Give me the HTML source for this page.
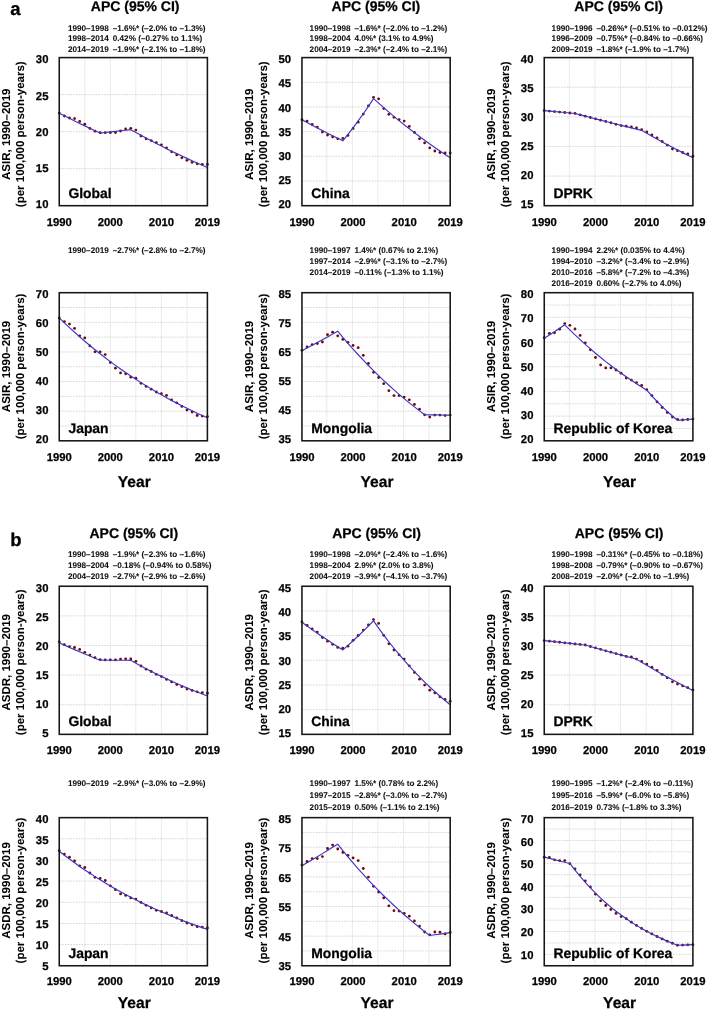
<!DOCTYPE html><html><head><meta charset="utf-8"><style>html,body{margin:0;padding:0;background:#fff;}svg{display:block;will-change:transform;}text{font-family:"Liberation Sans", sans-serif;text-rendering:geometricPrecision;stroke:#000;stroke-width:0.25px;}text.s{stroke-width:0.06px;}</style></head><body>
<svg width="708" height="1010" viewBox="0 0 708 1010">
<rect x="0" y="0" width="708" height="1010" fill="#fff"/>
<text x="10.3" y="14.6" font-size="18.5" font-weight="bold" fill="#000">a</text>
<text x="10.3" y="545.6" font-size="18.5" font-weight="bold" fill="#000">b</text>
<line x1="84.79" y1="57.6" x2="84.79" y2="205.7" stroke="#ebebeb" stroke-width="1.0"/>
<line x1="110.34" y1="57.6" x2="110.34" y2="205.7" stroke="#ebebeb" stroke-width="1.0"/>
<line x1="135.88" y1="57.6" x2="135.88" y2="205.7" stroke="#ebebeb" stroke-width="1.0"/>
<line x1="161.42" y1="57.6" x2="161.42" y2="205.7" stroke="#ebebeb" stroke-width="1.0"/>
<line x1="186.97" y1="57.6" x2="186.97" y2="205.7" stroke="#ebebeb" stroke-width="1.0"/>
<line x1="59.25" y1="168.67" x2="207.4" y2="168.67" stroke="#c8c8c8" stroke-width="0.75" stroke-dasharray="1.6 1.2"/>
<line x1="59.25" y1="131.65" x2="207.4" y2="131.65" stroke="#c8c8c8" stroke-width="0.75" stroke-dasharray="1.6 1.2"/>
<line x1="59.25" y1="94.62" x2="207.4" y2="94.62" stroke="#c8c8c8" stroke-width="0.75" stroke-dasharray="1.6 1.2"/>
<g fill="#760606"><circle cx="59.25" cy="113.1" r="1.4"/><circle cx="64.36" cy="116" r="1.4"/><circle cx="69.47" cy="118" r="1.4"/><circle cx="74.58" cy="118.6" r="1.4"/><circle cx="79.68" cy="121.4" r="1.4"/><circle cx="84.79" cy="124.2" r="1.4"/><circle cx="89.9" cy="128.4" r="1.4"/><circle cx="95.01" cy="131.2" r="1.4"/><circle cx="100.12" cy="132.7" r="1.4"/><circle cx="105.23" cy="132.7" r="1.4"/><circle cx="110.34" cy="132.7" r="1.4"/><circle cx="115.44" cy="132.5" r="1.4"/><circle cx="120.55" cy="131" r="1.4"/><circle cx="125.66" cy="129" r="1.4"/><circle cx="130.77" cy="128.3" r="1.4"/><circle cx="135.88" cy="130.1" r="1.4"/><circle cx="140.99" cy="136" r="1.4"/><circle cx="146.1" cy="138.8" r="1.4"/><circle cx="151.21" cy="140.6" r="1.4"/><circle cx="156.31" cy="142.7" r="1.4"/><circle cx="161.42" cy="144.8" r="1.4"/><circle cx="166.53" cy="147.9" r="1.4"/><circle cx="171.64" cy="151.8" r="1.4"/><circle cx="176.75" cy="154.9" r="1.4"/><circle cx="181.86" cy="157.8" r="1.4"/><circle cx="186.97" cy="160.3" r="1.4"/><circle cx="192.07" cy="162.3" r="1.4"/><circle cx="197.18" cy="163.8" r="1.4"/><circle cx="202.29" cy="164.3" r="1.4"/><circle cx="207.4" cy="164.5" r="1.4"/></g>
<polyline points="59.25,113.14 64.36,115.77 69.47,118.36 74.58,120.91 79.68,123.41 84.79,125.88 89.9,128.31 95.01,130.7 100.12,133.06 105.23,132.49 110.34,131.93 115.44,131.36 120.55,130.79 125.66,130.22 130.77,129.65 135.88,132.52 140.99,135.34 146.1,138.1 151.21,140.81 156.31,143.47 161.42,146.08 166.53,148.64 171.64,151.15 176.75,153.61 181.86,156.02 186.97,158.39 192.07,160.71 197.18,162.99 202.29,165.22 207.4,167.42" fill="none" stroke="#3a36c6" stroke-width="1.15" stroke-linejoin="round"/>
<rect x="59.25" y="57.6" width="148.15" height="148.1" fill="none" stroke="#161616" stroke-width="1.55"/>
<text x="48.45" y="208.32" font-size="11.3" font-weight="bold" text-anchor="end">10</text>
<text x="48.45" y="172.07" font-size="11.3" font-weight="bold" text-anchor="end">15</text>
<text x="48.45" y="135.82" font-size="11.3" font-weight="bold" text-anchor="end">20</text>
<text x="48.45" y="99.57" font-size="11.3" font-weight="bold" text-anchor="end">25</text>
<text x="48.45" y="63.32" font-size="11.3" font-weight="bold" text-anchor="end">30</text>
<text x="59.25" y="225.6" font-size="11.3" font-weight="bold" text-anchor="middle">1990</text>
<text x="110.34" y="225.6" font-size="11.3" font-weight="bold" text-anchor="middle">2000</text>
<text x="161.42" y="225.6" font-size="11.3" font-weight="bold" text-anchor="middle">2010</text>
<text x="207.4" y="225.6" font-size="11.3" font-weight="bold" text-anchor="middle">2019</text>
<text x="68.45" y="197.7" font-size="13.9" font-weight="bold">Global</text>
<text transform="translate(9.85,134.25) rotate(-90)" font-size="11.5" font-weight="bold" text-anchor="middle" class="s">ASIR, 1990–2019</text>
<text transform="translate(23.95,134.25) rotate(-90)" font-size="11.5" font-weight="bold" text-anchor="middle" class="s">(per 100,000 person-years)</text>
<text x="135.2" y="11" font-size="14.0" font-weight="bold" text-anchor="middle">APC (95% CI)</text>
<text transform="translate(67.9,30.6) scale(1.0,1)" font-size="8.2" font-weight="bold" fill="#111" class="s">1990–1998</text>
<text transform="translate(112.7,30.6) scale(1.0,1)" font-size="8.2" font-weight="bold" fill="#111" class="s">–1.6%* (–2.0% to –1.3%)</text>
<text transform="translate(67.9,41.1) scale(1.0,1)" font-size="8.2" font-weight="bold" fill="#111" class="s">1998–2014</text>
<text transform="translate(112.7,41.1) scale(1.0,1)" font-size="8.2" font-weight="bold" fill="#111" class="s">0.42% (–0.27% to 1.1%)</text>
<text transform="translate(67.9,51.6) scale(1.0,1)" font-size="8.2" font-weight="bold" fill="#111" class="s">2014–2019</text>
<text transform="translate(112.7,51.6) scale(1.0,1)" font-size="8.2" font-weight="bold" fill="#111" class="s">–1.9%* (–2.1% to –1.8%)</text>
<line x1="326.81" y1="57.6" x2="326.81" y2="205.7" stroke="#ebebeb" stroke-width="1.0"/>
<line x1="352.37" y1="57.6" x2="352.37" y2="205.7" stroke="#ebebeb" stroke-width="1.0"/>
<line x1="377.93" y1="57.6" x2="377.93" y2="205.7" stroke="#ebebeb" stroke-width="1.0"/>
<line x1="403.49" y1="57.6" x2="403.49" y2="205.7" stroke="#ebebeb" stroke-width="1.0"/>
<line x1="429.05" y1="57.6" x2="429.05" y2="205.7" stroke="#ebebeb" stroke-width="1.0"/>
<line x1="301.95" y1="181.02" x2="450.2" y2="181.02" stroke="#c8c8c8" stroke-width="0.75" stroke-dasharray="1.6 1.2"/>
<line x1="301.95" y1="156.33" x2="450.2" y2="156.33" stroke="#c8c8c8" stroke-width="0.75" stroke-dasharray="1.6 1.2"/>
<line x1="301.95" y1="131.65" x2="450.2" y2="131.65" stroke="#c8c8c8" stroke-width="0.75" stroke-dasharray="1.6 1.2"/>
<line x1="301.95" y1="106.97" x2="450.2" y2="106.97" stroke="#c8c8c8" stroke-width="0.75" stroke-dasharray="1.6 1.2"/>
<line x1="301.95" y1="82.28" x2="450.2" y2="82.28" stroke="#c8c8c8" stroke-width="0.75" stroke-dasharray="1.6 1.2"/>
<g fill="#760606"><circle cx="301.95" cy="119.65" r="1.4"/><circle cx="307.06" cy="121.1" r="1.4"/><circle cx="312.17" cy="124.5" r="1.4"/><circle cx="317.29" cy="127.1" r="1.4"/><circle cx="322.4" cy="132" r="1.4"/><circle cx="327.51" cy="135" r="1.4"/><circle cx="332.62" cy="136.9" r="1.4"/><circle cx="337.73" cy="138.8" r="1.4"/><circle cx="342.85" cy="138.4" r="1.4"/><circle cx="347.96" cy="135.4" r="1.4"/><circle cx="353.07" cy="128.4" r="1.4"/><circle cx="358.18" cy="122.2" r="1.4"/><circle cx="363.29" cy="114.1" r="1.4"/><circle cx="368.41" cy="105.8" r="1.4"/><circle cx="373.52" cy="97.3" r="1.4"/><circle cx="378.63" cy="98.8" r="1.4"/><circle cx="383.74" cy="108.6" r="1.4"/><circle cx="388.86" cy="114.3" r="1.4"/><circle cx="393.97" cy="117.3" r="1.4"/><circle cx="399.08" cy="119.6" r="1.4"/><circle cx="404.19" cy="121.1" r="1.4"/><circle cx="409.3" cy="126.4" r="1.4"/><circle cx="414.42" cy="132.4" r="1.4"/><circle cx="419.53" cy="138.8" r="1.4"/><circle cx="424.64" cy="142.9" r="1.4"/><circle cx="429.75" cy="147.9" r="1.4"/><circle cx="434.86" cy="151" r="1.4"/><circle cx="439.98" cy="152.5" r="1.4"/><circle cx="445.09" cy="153" r="1.4"/><circle cx="450.2" cy="153" r="1.4"/></g>
<polyline points="301.95,119.65 307.06,122.44 312.17,125.19 317.29,127.9 322.4,130.57 327.51,133.19 332.62,135.78 337.73,138.32 342.85,140.83 347.96,134.45 353.07,127.81 358.18,120.92 363.29,113.75 368.41,106.31 373.52,98.57 378.63,103.18 383.74,107.68 388.86,112.08 393.97,116.39 399.08,120.59 404.19,124.7 409.3,128.72 414.42,132.66 419.53,136.5 424.64,140.25 429.75,143.93 434.86,147.52 439.98,151.03 445.09,154.46 450.2,157.81" fill="none" stroke="#3a36c6" stroke-width="1.15" stroke-linejoin="round"/>
<rect x="301.95" y="57.6" width="148.25" height="148.1" fill="none" stroke="#161616" stroke-width="1.55"/>
<text x="291.15" y="208.32" font-size="11.3" font-weight="bold" text-anchor="end">20</text>
<text x="291.15" y="184.15" font-size="11.3" font-weight="bold" text-anchor="end">25</text>
<text x="291.15" y="159.98" font-size="11.3" font-weight="bold" text-anchor="end">30</text>
<text x="291.15" y="135.82" font-size="11.3" font-weight="bold" text-anchor="end">35</text>
<text x="291.15" y="111.65" font-size="11.3" font-weight="bold" text-anchor="end">40</text>
<text x="291.15" y="87.48" font-size="11.3" font-weight="bold" text-anchor="end">45</text>
<text x="291.15" y="63.32" font-size="11.3" font-weight="bold" text-anchor="end">50</text>
<text x="301.95" y="225.6" font-size="11.3" font-weight="bold" text-anchor="middle">1990</text>
<text x="353.07" y="225.6" font-size="11.3" font-weight="bold" text-anchor="middle">2000</text>
<text x="404.19" y="225.6" font-size="11.3" font-weight="bold" text-anchor="middle">2010</text>
<text x="450.2" y="225.6" font-size="11.3" font-weight="bold" text-anchor="middle">2019</text>
<text x="311.15" y="197.7" font-size="13.9" font-weight="bold">China</text>
<text transform="translate(252.55,134.25) rotate(-90)" font-size="11.5" font-weight="bold" text-anchor="middle" class="s">ASIR, 1990–2019</text>
<text transform="translate(266.65,134.25) rotate(-90)" font-size="11.5" font-weight="bold" text-anchor="middle" class="s">(per 100,000 person-years)</text>
<text x="375.9" y="11" font-size="14.0" font-weight="bold" text-anchor="middle">APC (95% CI)</text>
<text transform="translate(309.6,30.6) scale(1.0,1)" font-size="8.2" font-weight="bold" fill="#111" class="s">1990–1998</text>
<text transform="translate(354.4,30.6) scale(1.0,1)" font-size="8.2" font-weight="bold" fill="#111" class="s">–1.6%* (–2.0% to –1.2%)</text>
<text transform="translate(309.6,41.1) scale(1.0,1)" font-size="8.2" font-weight="bold" fill="#111" class="s">1998–2004</text>
<text transform="translate(354.4,41.1) scale(1.0,1)" font-size="8.2" font-weight="bold" fill="#111" class="s">4.0%* (3.1% to 4.9%)</text>
<text transform="translate(309.6,51.6) scale(1.0,1)" font-size="8.2" font-weight="bold" fill="#111" class="s">2004–2019</text>
<text transform="translate(354.4,51.6) scale(1.0,1)" font-size="8.2" font-weight="bold" fill="#111" class="s">–2.3%* (–2.4% to –2.1%)</text>
<line x1="569.28" y1="57.6" x2="569.28" y2="205.7" stroke="#ebebeb" stroke-width="1.0"/>
<line x1="594.91" y1="57.6" x2="594.91" y2="205.7" stroke="#ebebeb" stroke-width="1.0"/>
<line x1="620.54" y1="57.6" x2="620.54" y2="205.7" stroke="#ebebeb" stroke-width="1.0"/>
<line x1="646.17" y1="57.6" x2="646.17" y2="205.7" stroke="#ebebeb" stroke-width="1.0"/>
<line x1="671.8" y1="57.6" x2="671.8" y2="205.7" stroke="#ebebeb" stroke-width="1.0"/>
<line x1="544.25" y1="176.08" x2="692.9" y2="176.08" stroke="#c8c8c8" stroke-width="0.75" stroke-dasharray="1.6 1.2"/>
<line x1="544.25" y1="146.46" x2="692.9" y2="146.46" stroke="#c8c8c8" stroke-width="0.75" stroke-dasharray="1.6 1.2"/>
<line x1="544.25" y1="116.84" x2="692.9" y2="116.84" stroke="#c8c8c8" stroke-width="0.75" stroke-dasharray="1.6 1.2"/>
<line x1="544.25" y1="87.22" x2="692.9" y2="87.22" stroke="#c8c8c8" stroke-width="0.75" stroke-dasharray="1.6 1.2"/>
<g fill="#760606"><circle cx="544.25" cy="110.62" r="1.4"/><circle cx="549.38" cy="111.1" r="1.4"/><circle cx="554.5" cy="111.57" r="1.4"/><circle cx="559.63" cy="112.05" r="1.4"/><circle cx="564.75" cy="112.52" r="1.4"/><circle cx="569.88" cy="112.99" r="1.4"/><circle cx="575.01" cy="113.46" r="1.4"/><circle cx="580.13" cy="114.82" r="1.4"/><circle cx="585.26" cy="116.17" r="1.4"/><circle cx="590.38" cy="117.51" r="1.4"/><circle cx="595.51" cy="118.84" r="1.4"/><circle cx="600.63" cy="120.15" r="1.4"/><circle cx="605.76" cy="121.46" r="1.4"/><circle cx="610.89" cy="122.76" r="1.4"/><circle cx="616.01" cy="124.3" r="1.4"/><circle cx="621.14" cy="125.6" r="1.4"/><circle cx="626.26" cy="126.2" r="1.4"/><circle cx="631.39" cy="127" r="1.4"/><circle cx="636.52" cy="127.9" r="1.4"/><circle cx="641.64" cy="129.7" r="1.4"/><circle cx="646.77" cy="131.9" r="1.4"/><circle cx="651.89" cy="134.9" r="1.4"/><circle cx="657.02" cy="137.9" r="1.4"/><circle cx="662.14" cy="141.5" r="1.4"/><circle cx="667.27" cy="145.1" r="1.4"/><circle cx="672.4" cy="149" r="1.4"/><circle cx="677.52" cy="150.7" r="1.4"/><circle cx="682.65" cy="152.5" r="1.4"/><circle cx="687.77" cy="153.9" r="1.4"/><circle cx="692.9" cy="156.2" r="1.4"/></g>
<polyline points="544.25,110.62 549.38,111.1 554.5,111.57 559.63,112.05 564.75,112.52 569.88,112.99 575.01,113.46 580.13,114.82 585.26,116.17 590.38,117.51 595.51,118.84 600.63,120.15 605.76,121.46 610.89,122.76 616.01,124.05 621.14,125.33 626.26,126.6 631.39,127.86 636.52,129.11 641.64,130.35 646.77,133.31 651.89,136.23 657.02,139.09 662.14,141.9 667.27,144.65 672.4,147.36 677.52,150.02 682.65,152.63 687.77,155.2 692.9,157.72" fill="none" stroke="#3a36c6" stroke-width="1.15" stroke-linejoin="round"/>
<rect x="544.25" y="57.6" width="148.65" height="148.1" fill="none" stroke="#161616" stroke-width="1.55"/>
<text x="533.45" y="208.32" font-size="11.3" font-weight="bold" text-anchor="end">15</text>
<text x="533.45" y="179.32" font-size="11.3" font-weight="bold" text-anchor="end">20</text>
<text x="533.45" y="150.32" font-size="11.3" font-weight="bold" text-anchor="end">25</text>
<text x="533.45" y="121.32" font-size="11.3" font-weight="bold" text-anchor="end">30</text>
<text x="533.45" y="92.32" font-size="11.3" font-weight="bold" text-anchor="end">35</text>
<text x="533.45" y="63.32" font-size="11.3" font-weight="bold" text-anchor="end">40</text>
<text x="544.25" y="225.6" font-size="11.3" font-weight="bold" text-anchor="middle">1990</text>
<text x="595.51" y="225.6" font-size="11.3" font-weight="bold" text-anchor="middle">2000</text>
<text x="646.77" y="225.6" font-size="11.3" font-weight="bold" text-anchor="middle">2010</text>
<text x="692.9" y="225.6" font-size="11.3" font-weight="bold" text-anchor="middle">2019</text>
<text x="553.45" y="197.7" font-size="13.9" font-weight="bold">DPRK</text>
<text transform="translate(494.85,134.25) rotate(-90)" font-size="11.5" font-weight="bold" text-anchor="middle" class="s">ASIR, 1990–2019</text>
<text transform="translate(508.95,134.25) rotate(-90)" font-size="11.5" font-weight="bold" text-anchor="middle" class="s">(per 100,000 person-years)</text>
<text x="618.7" y="11" font-size="14.0" font-weight="bold" text-anchor="middle">APC (95% CI)</text>
<text transform="translate(551.6,30.6) scale(1.0,1)" font-size="8.2" font-weight="bold" fill="#111" class="s">1990–1996</text>
<text transform="translate(596.4,30.6) scale(1.0,1)" font-size="8.2" font-weight="bold" fill="#111" class="s">–0.26%* (–0.51% to –0.012%)</text>
<text transform="translate(551.6,41.1) scale(1.0,1)" font-size="8.2" font-weight="bold" fill="#111" class="s">1996–2009</text>
<text transform="translate(596.4,41.1) scale(1.0,1)" font-size="8.2" font-weight="bold" fill="#111" class="s">–0.75%* (–0.84% to –0.66%)</text>
<text transform="translate(551.6,51.6) scale(1.0,1)" font-size="8.2" font-weight="bold" fill="#111" class="s">2009–2019</text>
<text transform="translate(596.4,51.6) scale(1.0,1)" font-size="8.2" font-weight="bold" fill="#111" class="s">–1.8%* (–1.9% to –1.7%)</text>
<line x1="84.79" y1="292.7" x2="84.79" y2="440.8" stroke="#ebebeb" stroke-width="1.0"/>
<line x1="110.34" y1="292.7" x2="110.34" y2="440.8" stroke="#ebebeb" stroke-width="1.0"/>
<line x1="135.88" y1="292.7" x2="135.88" y2="440.8" stroke="#ebebeb" stroke-width="1.0"/>
<line x1="161.42" y1="292.7" x2="161.42" y2="440.8" stroke="#ebebeb" stroke-width="1.0"/>
<line x1="186.97" y1="292.7" x2="186.97" y2="440.8" stroke="#ebebeb" stroke-width="1.0"/>
<line x1="59.25" y1="425.99" x2="207.4" y2="425.99" stroke="#c8c8c8" stroke-width="0.75" stroke-dasharray="1.6 1.2"/>
<line x1="59.25" y1="411.18" x2="207.4" y2="411.18" stroke="#c8c8c8" stroke-width="0.75" stroke-dasharray="1.6 1.2"/>
<line x1="59.25" y1="396.37" x2="207.4" y2="396.37" stroke="#c8c8c8" stroke-width="0.75" stroke-dasharray="1.6 1.2"/>
<line x1="59.25" y1="381.56" x2="207.4" y2="381.56" stroke="#c8c8c8" stroke-width="0.75" stroke-dasharray="1.6 1.2"/>
<line x1="59.25" y1="366.75" x2="207.4" y2="366.75" stroke="#c8c8c8" stroke-width="0.75" stroke-dasharray="1.6 1.2"/>
<line x1="59.25" y1="351.94" x2="207.4" y2="351.94" stroke="#c8c8c8" stroke-width="0.75" stroke-dasharray="1.6 1.2"/>
<line x1="59.25" y1="337.13" x2="207.4" y2="337.13" stroke="#c8c8c8" stroke-width="0.75" stroke-dasharray="1.6 1.2"/>
<line x1="59.25" y1="322.32" x2="207.4" y2="322.32" stroke="#c8c8c8" stroke-width="0.75" stroke-dasharray="1.6 1.2"/>
<line x1="59.25" y1="307.51" x2="207.4" y2="307.51" stroke="#c8c8c8" stroke-width="0.75" stroke-dasharray="1.6 1.2"/>
<g fill="#760606"><circle cx="59.25" cy="317.9" r="1.4"/><circle cx="64.36" cy="321.6" r="1.4"/><circle cx="69.47" cy="324.1" r="1.4"/><circle cx="74.58" cy="328.4" r="1.4"/><circle cx="79.68" cy="335.8" r="1.4"/><circle cx="84.79" cy="337.9" r="1.4"/><circle cx="89.9" cy="345.9" r="1.4"/><circle cx="95.01" cy="351.8" r="1.4"/><circle cx="100.12" cy="351.8" r="1.4"/><circle cx="105.23" cy="354.6" r="1.4"/><circle cx="110.34" cy="362.5" r="1.4"/><circle cx="115.44" cy="368.2" r="1.4"/><circle cx="120.55" cy="372.9" r="1.4"/><circle cx="125.66" cy="373.8" r="1.4"/><circle cx="130.77" cy="377.2" r="1.4"/><circle cx="135.88" cy="378.2" r="1.4"/><circle cx="140.99" cy="383.3" r="1.4"/><circle cx="146.1" cy="386.4" r="1.4"/><circle cx="151.21" cy="389.2" r="1.4"/><circle cx="156.31" cy="392" r="1.4"/><circle cx="161.42" cy="393.7" r="1.4"/><circle cx="166.53" cy="395.4" r="1.4"/><circle cx="171.64" cy="399.9" r="1.4"/><circle cx="176.75" cy="402.8" r="1.4"/><circle cx="181.86" cy="406.4" r="1.4"/><circle cx="186.97" cy="410.1" r="1.4"/><circle cx="192.07" cy="412" r="1.4"/><circle cx="197.18" cy="415.5" r="1.4"/><circle cx="202.29" cy="416.1" r="1.4"/><circle cx="207.4" cy="416.6" r="1.4"/></g>
<polyline points="59.25,317.88 64.36,322.81 69.47,327.61 74.58,332.27 79.68,336.81 84.79,341.23 89.9,345.53 95.01,349.71 100.12,353.78 105.23,357.74 110.34,361.59 115.44,365.34 120.55,368.99 125.66,372.53 130.77,375.99 135.88,379.34 140.99,382.61 146.1,385.79 151.21,388.88 156.31,391.89 161.42,394.82 166.53,397.67 171.64,400.44 176.75,403.13 181.86,405.76 186.97,408.31 192.07,410.79 197.18,413.21 202.29,415.56 207.4,417.84" fill="none" stroke="#3a36c6" stroke-width="1.15" stroke-linejoin="round"/>
<rect x="59.25" y="292.7" width="148.15" height="148.1" fill="none" stroke="#161616" stroke-width="1.55"/>
<text x="48.45" y="443.47" font-size="11.3" font-weight="bold" text-anchor="end">20</text>
<text x="48.45" y="414.39" font-size="11.3" font-weight="bold" text-anchor="end">30</text>
<text x="48.45" y="385.31" font-size="11.3" font-weight="bold" text-anchor="end">40</text>
<text x="48.45" y="356.23" font-size="11.3" font-weight="bold" text-anchor="end">50</text>
<text x="48.45" y="327.15" font-size="11.3" font-weight="bold" text-anchor="end">60</text>
<text x="48.45" y="298.07" font-size="11.3" font-weight="bold" text-anchor="end">70</text>
<text x="59.25" y="461.3" font-size="11.3" font-weight="bold" text-anchor="middle">1990</text>
<text x="110.34" y="461.3" font-size="11.3" font-weight="bold" text-anchor="middle">2000</text>
<text x="161.42" y="461.3" font-size="11.3" font-weight="bold" text-anchor="middle">2010</text>
<text x="207.4" y="461.3" font-size="11.3" font-weight="bold" text-anchor="middle">2019</text>
<text x="68.45" y="432.8" font-size="13.9" font-weight="bold">Japan</text>
<text transform="translate(9.85,366.45) rotate(-90)" font-size="11.5" font-weight="bold" text-anchor="middle" class="s">ASIR, 1990–2019</text>
<text transform="translate(23.95,366.45) rotate(-90)" font-size="11.5" font-weight="bold" text-anchor="middle" class="s">(per 100,000 person-years)</text>
<text transform="translate(67.9,253) scale(1.0,1)" font-size="8.2" font-weight="bold" fill="#111" class="s">1990–2019</text>
<text transform="translate(112.7,253) scale(1.0,1)" font-size="8.2" font-weight="bold" fill="#111" class="s">–2.7%* (–2.8% to –2.7%)</text>
<text x="134.32" y="486.5" font-size="15.6" font-weight="bold" text-anchor="middle">Year</text>
<line x1="326.81" y1="292.7" x2="326.81" y2="440.8" stroke="#ebebeb" stroke-width="1.0"/>
<line x1="352.37" y1="292.7" x2="352.37" y2="440.8" stroke="#ebebeb" stroke-width="1.0"/>
<line x1="377.93" y1="292.7" x2="377.93" y2="440.8" stroke="#ebebeb" stroke-width="1.0"/>
<line x1="403.49" y1="292.7" x2="403.49" y2="440.8" stroke="#ebebeb" stroke-width="1.0"/>
<line x1="429.05" y1="292.7" x2="429.05" y2="440.8" stroke="#ebebeb" stroke-width="1.0"/>
<line x1="301.95" y1="425.99" x2="450.2" y2="425.99" stroke="#c8c8c8" stroke-width="0.75" stroke-dasharray="1.6 1.2"/>
<line x1="301.95" y1="411.18" x2="450.2" y2="411.18" stroke="#c8c8c8" stroke-width="0.75" stroke-dasharray="1.6 1.2"/>
<line x1="301.95" y1="396.37" x2="450.2" y2="396.37" stroke="#c8c8c8" stroke-width="0.75" stroke-dasharray="1.6 1.2"/>
<line x1="301.95" y1="381.56" x2="450.2" y2="381.56" stroke="#c8c8c8" stroke-width="0.75" stroke-dasharray="1.6 1.2"/>
<line x1="301.95" y1="366.75" x2="450.2" y2="366.75" stroke="#c8c8c8" stroke-width="0.75" stroke-dasharray="1.6 1.2"/>
<line x1="301.95" y1="351.94" x2="450.2" y2="351.94" stroke="#c8c8c8" stroke-width="0.75" stroke-dasharray="1.6 1.2"/>
<line x1="301.95" y1="337.13" x2="450.2" y2="337.13" stroke="#c8c8c8" stroke-width="0.75" stroke-dasharray="1.6 1.2"/>
<line x1="301.95" y1="322.32" x2="450.2" y2="322.32" stroke="#c8c8c8" stroke-width="0.75" stroke-dasharray="1.6 1.2"/>
<line x1="301.95" y1="307.51" x2="450.2" y2="307.51" stroke="#c8c8c8" stroke-width="0.75" stroke-dasharray="1.6 1.2"/>
<g fill="#760606"><circle cx="301.95" cy="350.3" r="1.4"/><circle cx="307.06" cy="346.9" r="1.4"/><circle cx="312.17" cy="344.6" r="1.4"/><circle cx="317.29" cy="343.5" r="1.4"/><circle cx="322.4" cy="342" r="1.4"/><circle cx="327.51" cy="334.7" r="1.4"/><circle cx="332.62" cy="332.2" r="1.4"/><circle cx="337.73" cy="335.8" r="1.4"/><circle cx="342.85" cy="339.4" r="1.4"/><circle cx="347.96" cy="342.3" r="1.4"/><circle cx="353.07" cy="345.4" r="1.4"/><circle cx="358.18" cy="347.7" r="1.4"/><circle cx="363.29" cy="355.3" r="1.4"/><circle cx="368.41" cy="363.5" r="1.4"/><circle cx="373.52" cy="372.3" r="1.4"/><circle cx="378.63" cy="377.5" r="1.4"/><circle cx="383.74" cy="383.7" r="1.4"/><circle cx="388.86" cy="390.7" r="1.4"/><circle cx="393.97" cy="395.6" r="1.4"/><circle cx="399.08" cy="395.6" r="1.4"/><circle cx="404.19" cy="397.1" r="1.4"/><circle cx="409.3" cy="399.8" r="1.4"/><circle cx="414.42" cy="404.4" r="1.4"/><circle cx="419.53" cy="409.2" r="1.4"/><circle cx="424.64" cy="414.8" r="1.4"/><circle cx="429.75" cy="417.1" r="1.4"/><circle cx="434.86" cy="415.1" r="1.4"/><circle cx="439.98" cy="415.1" r="1.4"/><circle cx="445.09" cy="415.6" r="1.4"/><circle cx="450.2" cy="415.1" r="1.4"/></g>
<polyline points="301.95,350.76 307.06,348.08 312.17,345.36 317.29,342.61 322.4,339.81 327.51,336.98 332.62,334.12 337.73,331.21 342.85,337.35 347.96,343.32 353.07,349.11 358.18,354.74 363.29,360.21 368.41,365.52 373.52,370.68 378.63,375.68 383.74,380.55 388.86,385.27 393.97,389.86 399.08,394.31 404.19,398.64 409.3,402.84 414.42,406.92 419.53,410.89 424.64,414.73 429.75,414.82 434.86,414.91 439.98,415 445.09,415.09 450.2,415.18" fill="none" stroke="#3a36c6" stroke-width="1.15" stroke-linejoin="round"/>
<rect x="301.95" y="292.7" width="148.25" height="148.1" fill="none" stroke="#161616" stroke-width="1.55"/>
<text x="291.15" y="443.47" font-size="11.3" font-weight="bold" text-anchor="end">35</text>
<text x="291.15" y="414.39" font-size="11.3" font-weight="bold" text-anchor="end">45</text>
<text x="291.15" y="385.31" font-size="11.3" font-weight="bold" text-anchor="end">55</text>
<text x="291.15" y="356.23" font-size="11.3" font-weight="bold" text-anchor="end">65</text>
<text x="291.15" y="327.15" font-size="11.3" font-weight="bold" text-anchor="end">75</text>
<text x="291.15" y="298.07" font-size="11.3" font-weight="bold" text-anchor="end">85</text>
<text x="301.95" y="461.3" font-size="11.3" font-weight="bold" text-anchor="middle">1990</text>
<text x="353.07" y="461.3" font-size="11.3" font-weight="bold" text-anchor="middle">2000</text>
<text x="404.19" y="461.3" font-size="11.3" font-weight="bold" text-anchor="middle">2010</text>
<text x="450.2" y="461.3" font-size="11.3" font-weight="bold" text-anchor="middle">2019</text>
<text x="311.15" y="432.8" font-size="13.9" font-weight="bold">Mongolia</text>
<text transform="translate(252.55,366.45) rotate(-90)" font-size="11.5" font-weight="bold" text-anchor="middle" class="s">ASIR, 1990–2019</text>
<text transform="translate(266.65,366.45) rotate(-90)" font-size="11.5" font-weight="bold" text-anchor="middle" class="s">(per 100,000 person-years)</text>
<text transform="translate(309.6,253) scale(1.0,1)" font-size="8.2" font-weight="bold" fill="#111" class="s">1990–1997</text>
<text transform="translate(354.4,253) scale(1.0,1)" font-size="8.2" font-weight="bold" fill="#111" class="s">1.4%* (0.67% to 2.1%)</text>
<text transform="translate(309.6,263.8) scale(1.0,1)" font-size="8.2" font-weight="bold" fill="#111" class="s">1997–2014</text>
<text transform="translate(354.4,263.8) scale(1.0,1)" font-size="8.2" font-weight="bold" fill="#111" class="s">–2.9%* (–3.1% to –2.7%)</text>
<text transform="translate(309.6,274.9) scale(1.0,1)" font-size="8.2" font-weight="bold" fill="#111" class="s">2014–2019</text>
<text transform="translate(354.4,274.9) scale(1.0,1)" font-size="8.2" font-weight="bold" fill="#111" class="s">–0.11% (–1.3% to 1.1%)</text>
<text x="377.07" y="486.5" font-size="15.6" font-weight="bold" text-anchor="middle">Year</text>
<line x1="569.28" y1="292.7" x2="569.28" y2="440.8" stroke="#ebebeb" stroke-width="1.0"/>
<line x1="594.91" y1="292.7" x2="594.91" y2="440.8" stroke="#ebebeb" stroke-width="1.0"/>
<line x1="620.54" y1="292.7" x2="620.54" y2="440.8" stroke="#ebebeb" stroke-width="1.0"/>
<line x1="646.17" y1="292.7" x2="646.17" y2="440.8" stroke="#ebebeb" stroke-width="1.0"/>
<line x1="671.8" y1="292.7" x2="671.8" y2="440.8" stroke="#ebebeb" stroke-width="1.0"/>
<line x1="544.25" y1="428.46" x2="692.9" y2="428.46" stroke="#c8c8c8" stroke-width="0.75" stroke-dasharray="1.6 1.2"/>
<line x1="544.25" y1="416.12" x2="692.9" y2="416.12" stroke="#c8c8c8" stroke-width="0.75" stroke-dasharray="1.6 1.2"/>
<line x1="544.25" y1="403.77" x2="692.9" y2="403.77" stroke="#c8c8c8" stroke-width="0.75" stroke-dasharray="1.6 1.2"/>
<line x1="544.25" y1="391.43" x2="692.9" y2="391.43" stroke="#c8c8c8" stroke-width="0.75" stroke-dasharray="1.6 1.2"/>
<line x1="544.25" y1="379.09" x2="692.9" y2="379.09" stroke="#c8c8c8" stroke-width="0.75" stroke-dasharray="1.6 1.2"/>
<line x1="544.25" y1="366.75" x2="692.9" y2="366.75" stroke="#c8c8c8" stroke-width="0.75" stroke-dasharray="1.6 1.2"/>
<line x1="544.25" y1="354.41" x2="692.9" y2="354.41" stroke="#c8c8c8" stroke-width="0.75" stroke-dasharray="1.6 1.2"/>
<line x1="544.25" y1="342.07" x2="692.9" y2="342.07" stroke="#c8c8c8" stroke-width="0.75" stroke-dasharray="1.6 1.2"/>
<line x1="544.25" y1="329.72" x2="692.9" y2="329.72" stroke="#c8c8c8" stroke-width="0.75" stroke-dasharray="1.6 1.2"/>
<line x1="544.25" y1="317.38" x2="692.9" y2="317.38" stroke="#c8c8c8" stroke-width="0.75" stroke-dasharray="1.6 1.2"/>
<line x1="544.25" y1="305.04" x2="692.9" y2="305.04" stroke="#c8c8c8" stroke-width="0.75" stroke-dasharray="1.6 1.2"/>
<g fill="#760606"><circle cx="544.25" cy="337.7" r="1.4"/><circle cx="549.38" cy="333.5" r="1.4"/><circle cx="554.5" cy="332.8" r="1.4"/><circle cx="559.63" cy="329.2" r="1.4"/><circle cx="564.75" cy="323.6" r="1.4"/><circle cx="569.88" cy="325.3" r="1.4"/><circle cx="575.01" cy="329" r="1.4"/><circle cx="580.13" cy="335.4" r="1.4"/><circle cx="585.26" cy="342.8" r="1.4"/><circle cx="590.38" cy="349.8" r="1.4"/><circle cx="595.51" cy="357.5" r="1.4"/><circle cx="600.63" cy="364.9" r="1.4"/><circle cx="605.76" cy="367.9" r="1.4"/><circle cx="610.89" cy="367.9" r="1.4"/><circle cx="616.01" cy="370" r="1.4"/><circle cx="621.14" cy="373.2" r="1.4"/><circle cx="626.26" cy="378.1" r="1.4"/><circle cx="631.39" cy="380.1" r="1.4"/><circle cx="636.52" cy="382.6" r="1.4"/><circle cx="641.64" cy="385.4" r="1.4"/><circle cx="646.77" cy="389.6" r="1.4"/><circle cx="651.89" cy="395.6" r="1.4"/><circle cx="657.02" cy="401.8" r="1.4"/><circle cx="662.14" cy="407.5" r="1.4"/><circle cx="667.27" cy="412.5" r="1.4"/><circle cx="672.4" cy="417.1" r="1.4"/><circle cx="677.52" cy="419.3" r="1.4"/><circle cx="682.65" cy="419.9" r="1.4"/><circle cx="687.77" cy="419.49" r="1.4"/><circle cx="692.9" cy="419.08" r="1.4"/></g>
<polyline points="544.25,338.36 549.38,335.08 554.5,331.72 559.63,328.29 564.75,324.79 569.88,329.91 575.01,334.87 580.13,339.68 585.26,344.34 590.38,348.86 595.51,353.24 600.63,357.48 605.76,361.59 610.89,365.57 616.01,369.43 621.14,373.17 626.26,376.79 631.39,380.3 636.52,383.71 641.64,387 646.77,390.2 651.89,396 657.02,401.46 662.14,406.6 667.27,411.45 672.4,416.01 677.52,420.31 682.65,419.9 687.77,419.49 692.9,419.08" fill="none" stroke="#3a36c6" stroke-width="1.15" stroke-linejoin="round"/>
<rect x="544.25" y="292.7" width="148.65" height="148.1" fill="none" stroke="#161616" stroke-width="1.55"/>
<text x="533.45" y="443.47" font-size="11.3" font-weight="bold" text-anchor="end">20</text>
<text x="533.45" y="419.23" font-size="11.3" font-weight="bold" text-anchor="end">30</text>
<text x="533.45" y="395" font-size="11.3" font-weight="bold" text-anchor="end">40</text>
<text x="533.45" y="370.77" font-size="11.3" font-weight="bold" text-anchor="end">50</text>
<text x="533.45" y="346.53" font-size="11.3" font-weight="bold" text-anchor="end">60</text>
<text x="533.45" y="322.3" font-size="11.3" font-weight="bold" text-anchor="end">70</text>
<text x="533.45" y="298.07" font-size="11.3" font-weight="bold" text-anchor="end">80</text>
<text x="544.25" y="461.3" font-size="11.3" font-weight="bold" text-anchor="middle">1990</text>
<text x="595.51" y="461.3" font-size="11.3" font-weight="bold" text-anchor="middle">2000</text>
<text x="646.77" y="461.3" font-size="11.3" font-weight="bold" text-anchor="middle">2010</text>
<text x="692.9" y="461.3" font-size="11.3" font-weight="bold" text-anchor="middle">2019</text>
<text x="553.45" y="432.8" font-size="13.9" font-weight="bold">Republic of Korea</text>
<text transform="translate(494.85,366.45) rotate(-90)" font-size="11.5" font-weight="bold" text-anchor="middle" class="s">ASIR, 1990–2019</text>
<text transform="translate(508.95,366.45) rotate(-90)" font-size="11.5" font-weight="bold" text-anchor="middle" class="s">(per 100,000 person-years)</text>
<text transform="translate(551.6,253) scale(1.0,1)" font-size="8.2" font-weight="bold" fill="#111" class="s">1990–1994</text>
<text transform="translate(596.4,253) scale(1.0,1)" font-size="8.2" font-weight="bold" fill="#111" class="s">2.2%* (0.035% to 4.4%)</text>
<text transform="translate(551.6,263.8) scale(1.0,1)" font-size="8.2" font-weight="bold" fill="#111" class="s">1994–2010</text>
<text transform="translate(596.4,263.8) scale(1.0,1)" font-size="8.2" font-weight="bold" fill="#111" class="s">–3.2%* (–3.4% to –2.9%)</text>
<text transform="translate(551.6,274.9) scale(1.0,1)" font-size="8.2" font-weight="bold" fill="#111" class="s">2010–2016</text>
<text transform="translate(596.4,274.9) scale(1.0,1)" font-size="8.2" font-weight="bold" fill="#111" class="s">–5.8%* (–7.2% to –4.3%)</text>
<text transform="translate(551.6,286.3) scale(1.0,1)" font-size="8.2" font-weight="bold" fill="#111" class="s">2016–2019</text>
<text transform="translate(596.4,286.3) scale(1.0,1)" font-size="8.2" font-weight="bold" fill="#111" class="s">0.60% (–2.7% to 4.0%)</text>
<text x="619.58" y="486.5" font-size="15.6" font-weight="bold" text-anchor="middle">Year</text>
<line x1="84.79" y1="586.25" x2="84.79" y2="734.35" stroke="#ebebeb" stroke-width="1.0"/>
<line x1="110.34" y1="586.25" x2="110.34" y2="734.35" stroke="#ebebeb" stroke-width="1.0"/>
<line x1="135.88" y1="586.25" x2="135.88" y2="734.35" stroke="#ebebeb" stroke-width="1.0"/>
<line x1="161.42" y1="586.25" x2="161.42" y2="734.35" stroke="#ebebeb" stroke-width="1.0"/>
<line x1="186.97" y1="586.25" x2="186.97" y2="734.35" stroke="#ebebeb" stroke-width="1.0"/>
<line x1="59.25" y1="704.73" x2="207.4" y2="704.73" stroke="#c8c8c8" stroke-width="0.75" stroke-dasharray="1.6 1.2"/>
<line x1="59.25" y1="675.11" x2="207.4" y2="675.11" stroke="#c8c8c8" stroke-width="0.75" stroke-dasharray="1.6 1.2"/>
<line x1="59.25" y1="645.49" x2="207.4" y2="645.49" stroke="#c8c8c8" stroke-width="0.75" stroke-dasharray="1.6 1.2"/>
<line x1="59.25" y1="615.87" x2="207.4" y2="615.87" stroke="#c8c8c8" stroke-width="0.75" stroke-dasharray="1.6 1.2"/>
<g fill="#760606"><circle cx="59.25" cy="641.9" r="1.4"/><circle cx="64.36" cy="644.7" r="1.4"/><circle cx="69.47" cy="646.6" r="1.4"/><circle cx="74.58" cy="647.5" r="1.4"/><circle cx="79.68" cy="649.4" r="1.4"/><circle cx="84.79" cy="652.3" r="1.4"/><circle cx="89.9" cy="655.1" r="1.4"/><circle cx="95.01" cy="657.7" r="1.4"/><circle cx="100.12" cy="659.6" r="1.4"/><circle cx="105.23" cy="659.9" r="1.4"/><circle cx="110.34" cy="659.9" r="1.4"/><circle cx="115.44" cy="659.9" r="1.4"/><circle cx="120.55" cy="659.1" r="1.4"/><circle cx="125.66" cy="658.8" r="1.4"/><circle cx="130.77" cy="659" r="1.4"/><circle cx="135.88" cy="661.3" r="1.4"/><circle cx="140.99" cy="666" r="1.4"/><circle cx="146.1" cy="669.2" r="1.4"/><circle cx="151.21" cy="671.5" r="1.4"/><circle cx="156.31" cy="674.3" r="1.4"/><circle cx="161.42" cy="676.6" r="1.4"/><circle cx="166.53" cy="679.4" r="1.4"/><circle cx="171.64" cy="681.9" r="1.4"/><circle cx="176.75" cy="684.5" r="1.4"/><circle cx="181.86" cy="686.7" r="1.4"/><circle cx="186.97" cy="689" r="1.4"/><circle cx="192.07" cy="690.4" r="1.4"/><circle cx="197.18" cy="691.8" r="1.4"/><circle cx="202.29" cy="692.7" r="1.4"/><circle cx="207.4" cy="693.2" r="1.4"/></g>
<polyline points="59.25,642.82 64.36,645.14 69.47,647.42 74.58,649.65 79.68,651.84 84.79,653.98 89.9,656.09 95.01,658.16 100.12,660.18 105.23,660.2 110.34,660.22 115.44,660.24 120.55,660.26 125.66,660.28 130.77,660.3 135.88,663.17 140.99,665.97 146.1,668.68 151.21,671.32 156.31,673.89 161.42,676.39 166.53,678.82 171.64,681.18 176.75,683.47 181.86,685.7 186.97,687.87 192.07,689.98 197.18,692.03 202.29,694.02 207.4,695.96" fill="none" stroke="#3a36c6" stroke-width="1.15" stroke-linejoin="round"/>
<rect x="59.25" y="586.25" width="148.15" height="148.1" fill="none" stroke="#161616" stroke-width="1.55"/>
<text x="48.45" y="737.32" font-size="11.3" font-weight="bold" text-anchor="end">5</text>
<text x="48.45" y="708.24" font-size="11.3" font-weight="bold" text-anchor="end">10</text>
<text x="48.45" y="679.16" font-size="11.3" font-weight="bold" text-anchor="end">15</text>
<text x="48.45" y="650.08" font-size="11.3" font-weight="bold" text-anchor="end">20</text>
<text x="48.45" y="621" font-size="11.3" font-weight="bold" text-anchor="end">25</text>
<text x="48.45" y="591.92" font-size="11.3" font-weight="bold" text-anchor="end">30</text>
<text x="59.25" y="753.75" font-size="11.3" font-weight="bold" text-anchor="middle">1990</text>
<text x="110.34" y="753.75" font-size="11.3" font-weight="bold" text-anchor="middle">2000</text>
<text x="161.42" y="753.75" font-size="11.3" font-weight="bold" text-anchor="middle">2010</text>
<text x="207.4" y="753.75" font-size="11.3" font-weight="bold" text-anchor="middle">2019</text>
<text x="68.45" y="726.35" font-size="13.9" font-weight="bold">Global</text>
<text transform="translate(9.85,662.3) rotate(-90)" font-size="11.5" font-weight="bold" text-anchor="middle" class="s">ASDR, 1990–2019</text>
<text transform="translate(23.95,662.3) rotate(-90)" font-size="11.5" font-weight="bold" text-anchor="middle" class="s">(per 100,000 person-years)</text>
<text x="133.8" y="538.05" font-size="14.0" font-weight="bold" text-anchor="middle">APC (95% CI)</text>
<text transform="translate(67.9,556.95) scale(1.0,1)" font-size="8.2" font-weight="bold" fill="#111" class="s">1990–1998</text>
<text transform="translate(112.7,556.95) scale(1.0,1)" font-size="8.2" font-weight="bold" fill="#111" class="s">–1.9%* (–2.3% to –1.6%)</text>
<text transform="translate(67.9,568.25) scale(1.0,1)" font-size="8.2" font-weight="bold" fill="#111" class="s">1998–2004</text>
<text transform="translate(112.7,568.25) scale(1.0,1)" font-size="8.2" font-weight="bold" fill="#111" class="s">–0.18% (–0.94% to 0.58%)</text>
<text transform="translate(67.9,578.65) scale(1.0,1)" font-size="8.2" font-weight="bold" fill="#111" class="s">2004–2019</text>
<text transform="translate(112.7,578.65) scale(1.0,1)" font-size="8.2" font-weight="bold" fill="#111" class="s">–2.7%* (–2.9% to –2.6%)</text>
<line x1="326.81" y1="586.25" x2="326.81" y2="734.35" stroke="#ebebeb" stroke-width="1.0"/>
<line x1="352.37" y1="586.25" x2="352.37" y2="734.35" stroke="#ebebeb" stroke-width="1.0"/>
<line x1="377.93" y1="586.25" x2="377.93" y2="734.35" stroke="#ebebeb" stroke-width="1.0"/>
<line x1="403.49" y1="586.25" x2="403.49" y2="734.35" stroke="#ebebeb" stroke-width="1.0"/>
<line x1="429.05" y1="586.25" x2="429.05" y2="734.35" stroke="#ebebeb" stroke-width="1.0"/>
<line x1="301.95" y1="709.67" x2="450.2" y2="709.67" stroke="#c8c8c8" stroke-width="0.75" stroke-dasharray="1.6 1.2"/>
<line x1="301.95" y1="684.98" x2="450.2" y2="684.98" stroke="#c8c8c8" stroke-width="0.75" stroke-dasharray="1.6 1.2"/>
<line x1="301.95" y1="660.3" x2="450.2" y2="660.3" stroke="#c8c8c8" stroke-width="0.75" stroke-dasharray="1.6 1.2"/>
<line x1="301.95" y1="635.62" x2="450.2" y2="635.62" stroke="#c8c8c8" stroke-width="0.75" stroke-dasharray="1.6 1.2"/>
<line x1="301.95" y1="610.93" x2="450.2" y2="610.93" stroke="#c8c8c8" stroke-width="0.75" stroke-dasharray="1.6 1.2"/>
<g fill="#760606"><circle cx="301.95" cy="621.9" r="1.4"/><circle cx="307.06" cy="625.3" r="1.4"/><circle cx="312.17" cy="629" r="1.4"/><circle cx="317.29" cy="632.1" r="1.4"/><circle cx="322.4" cy="637.5" r="1.4"/><circle cx="327.51" cy="641.2" r="1.4"/><circle cx="332.62" cy="644.3" r="1.4"/><circle cx="337.73" cy="647.4" r="1.4"/><circle cx="342.85" cy="648.2" r="1.4"/><circle cx="347.96" cy="646.2" r="1.4"/><circle cx="353.07" cy="640.3" r="1.4"/><circle cx="358.18" cy="635.5" r="1.4"/><circle cx="363.29" cy="630.1" r="1.4"/><circle cx="368.41" cy="624.8" r="1.4"/><circle cx="373.52" cy="619.6" r="1.4"/><circle cx="378.63" cy="623.4" r="1.4"/><circle cx="383.74" cy="635.3" r="1.4"/><circle cx="388.86" cy="643.8" r="1.4"/><circle cx="393.97" cy="650" r="1.4"/><circle cx="399.08" cy="654.8" r="1.4"/><circle cx="404.19" cy="659.1" r="1.4"/><circle cx="409.3" cy="665.8" r="1.4"/><circle cx="414.42" cy="672.4" r="1.4"/><circle cx="419.53" cy="679.2" r="1.4"/><circle cx="424.64" cy="685.1" r="1.4"/><circle cx="429.75" cy="690.2" r="1.4"/><circle cx="434.86" cy="692.9" r="1.4"/><circle cx="439.98" cy="696.8" r="1.4"/><circle cx="445.09" cy="699.5" r="1.4"/><circle cx="450.2" cy="701.2" r="1.4"/></g>
<polyline points="301.95,622.29 307.06,625.99 312.17,629.62 317.29,633.18 322.4,636.67 327.51,640.08 332.62,643.43 337.73,646.72 342.85,649.93 347.96,645.41 353.07,640.76 358.18,635.98 363.29,631.07 368.41,626.01 373.52,620.81 378.63,628.08 383.74,635.07 388.86,641.79 393.97,648.25 399.08,654.46 404.19,660.42 409.3,666.16 414.42,671.67 419.53,676.97 424.64,682.07 429.75,686.97 434.86,691.67 439.98,696.2 445.09,700.55 450.2,704.73" fill="none" stroke="#3a36c6" stroke-width="1.15" stroke-linejoin="round"/>
<rect x="301.95" y="586.25" width="148.25" height="148.1" fill="none" stroke="#161616" stroke-width="1.55"/>
<text x="291.15" y="737.32" font-size="11.3" font-weight="bold" text-anchor="end">15</text>
<text x="291.15" y="713.08" font-size="11.3" font-weight="bold" text-anchor="end">20</text>
<text x="291.15" y="688.85" font-size="11.3" font-weight="bold" text-anchor="end">25</text>
<text x="291.15" y="664.62" font-size="11.3" font-weight="bold" text-anchor="end">30</text>
<text x="291.15" y="640.38" font-size="11.3" font-weight="bold" text-anchor="end">35</text>
<text x="291.15" y="616.15" font-size="11.3" font-weight="bold" text-anchor="end">40</text>
<text x="291.15" y="591.92" font-size="11.3" font-weight="bold" text-anchor="end">45</text>
<text x="301.95" y="753.75" font-size="11.3" font-weight="bold" text-anchor="middle">1990</text>
<text x="353.07" y="753.75" font-size="11.3" font-weight="bold" text-anchor="middle">2000</text>
<text x="404.19" y="753.75" font-size="11.3" font-weight="bold" text-anchor="middle">2010</text>
<text x="450.2" y="753.75" font-size="11.3" font-weight="bold" text-anchor="middle">2019</text>
<text x="311.15" y="726.35" font-size="13.9" font-weight="bold">China</text>
<text transform="translate(252.55,662.3) rotate(-90)" font-size="11.5" font-weight="bold" text-anchor="middle" class="s">ASDR, 1990–2019</text>
<text transform="translate(266.65,662.3) rotate(-90)" font-size="11.5" font-weight="bold" text-anchor="middle" class="s">(per 100,000 person-years)</text>
<text x="376.5" y="538.05" font-size="14.0" font-weight="bold" text-anchor="middle">APC (95% CI)</text>
<text transform="translate(309.6,556.95) scale(1.0,1)" font-size="8.2" font-weight="bold" fill="#111" class="s">1990–1998</text>
<text transform="translate(354.4,556.95) scale(1.0,1)" font-size="8.2" font-weight="bold" fill="#111" class="s">–2.0%* (–2.4% to –1.6%)</text>
<text transform="translate(309.6,568.25) scale(1.0,1)" font-size="8.2" font-weight="bold" fill="#111" class="s">1998–2004</text>
<text transform="translate(354.4,568.25) scale(1.0,1)" font-size="8.2" font-weight="bold" fill="#111" class="s">2.9%* (2.0% to 3.8%)</text>
<text transform="translate(309.6,578.65) scale(1.0,1)" font-size="8.2" font-weight="bold" fill="#111" class="s">2004–2019</text>
<text transform="translate(354.4,578.65) scale(1.0,1)" font-size="8.2" font-weight="bold" fill="#111" class="s">–3.9%* (–4.1% to –3.7%)</text>
<line x1="569.28" y1="586.25" x2="569.28" y2="734.35" stroke="#ebebeb" stroke-width="1.0"/>
<line x1="594.91" y1="586.25" x2="594.91" y2="734.35" stroke="#ebebeb" stroke-width="1.0"/>
<line x1="620.54" y1="586.25" x2="620.54" y2="734.35" stroke="#ebebeb" stroke-width="1.0"/>
<line x1="646.17" y1="586.25" x2="646.17" y2="734.35" stroke="#ebebeb" stroke-width="1.0"/>
<line x1="671.8" y1="586.25" x2="671.8" y2="734.35" stroke="#ebebeb" stroke-width="1.0"/>
<line x1="544.25" y1="704.73" x2="692.9" y2="704.73" stroke="#c8c8c8" stroke-width="0.75" stroke-dasharray="1.6 1.2"/>
<line x1="544.25" y1="675.11" x2="692.9" y2="675.11" stroke="#c8c8c8" stroke-width="0.75" stroke-dasharray="1.6 1.2"/>
<line x1="544.25" y1="645.49" x2="692.9" y2="645.49" stroke="#c8c8c8" stroke-width="0.75" stroke-dasharray="1.6 1.2"/>
<line x1="544.25" y1="615.87" x2="692.9" y2="615.87" stroke="#c8c8c8" stroke-width="0.75" stroke-dasharray="1.6 1.2"/>
<g fill="#760606"><circle cx="544.25" cy="640.57" r="1.4"/><circle cx="549.38" cy="641.13" r="1.4"/><circle cx="554.5" cy="641.69" r="1.4"/><circle cx="559.63" cy="642.25" r="1.4"/><circle cx="564.75" cy="642.81" r="1.4"/><circle cx="569.88" cy="643.36" r="1.4"/><circle cx="575.01" cy="643.92" r="1.4"/><circle cx="580.13" cy="644.47" r="1.4"/><circle cx="585.26" cy="645.02" r="1.4"/><circle cx="590.38" cy="646.48" r="1.4"/><circle cx="595.51" cy="647.93" r="1.4"/><circle cx="600.63" cy="649.37" r="1.4"/><circle cx="605.76" cy="650.8" r="1.4"/><circle cx="610.89" cy="652.21" r="1.4"/><circle cx="616.01" cy="653.61" r="1.4"/><circle cx="621.14" cy="655.01" r="1.4"/><circle cx="626.26" cy="656.39" r="1.4"/><circle cx="631.39" cy="657" r="1.4"/><circle cx="636.52" cy="659.1" r="1.4"/><circle cx="641.64" cy="661.3" r="1.4"/><circle cx="646.77" cy="664.1" r="1.4"/><circle cx="651.89" cy="667.2" r="1.4"/><circle cx="657.02" cy="670.3" r="1.4"/><circle cx="662.14" cy="674.4" r="1.4"/><circle cx="667.27" cy="677.8" r="1.4"/><circle cx="672.4" cy="681.8" r="1.4"/><circle cx="677.52" cy="684.1" r="1.4"/><circle cx="682.65" cy="685.9" r="1.4"/><circle cx="687.77" cy="687.7" r="1.4"/><circle cx="692.9" cy="690" r="1.4"/></g>
<polyline points="544.25,640.57 549.38,641.13 554.5,641.69 559.63,642.25 564.75,642.81 569.88,643.36 575.01,643.92 580.13,644.47 585.26,645.02 590.38,646.48 595.51,647.93 600.63,649.37 605.76,650.8 610.89,652.21 616.01,653.61 621.14,655.01 626.26,656.39 631.39,657.76 636.52,659.12 641.64,662.25 646.77,665.33 651.89,668.35 657.02,671.31 662.14,674.22 667.27,677.06 672.4,679.86 677.52,682.6 682.65,685.29 687.77,687.93 692.9,690.51" fill="none" stroke="#3a36c6" stroke-width="1.15" stroke-linejoin="round"/>
<rect x="544.25" y="586.25" width="148.65" height="148.1" fill="none" stroke="#161616" stroke-width="1.55"/>
<text x="533.45" y="737.32" font-size="11.3" font-weight="bold" text-anchor="end">15</text>
<text x="533.45" y="708.24" font-size="11.3" font-weight="bold" text-anchor="end">20</text>
<text x="533.45" y="679.16" font-size="11.3" font-weight="bold" text-anchor="end">25</text>
<text x="533.45" y="650.08" font-size="11.3" font-weight="bold" text-anchor="end">30</text>
<text x="533.45" y="621" font-size="11.3" font-weight="bold" text-anchor="end">35</text>
<text x="533.45" y="591.92" font-size="11.3" font-weight="bold" text-anchor="end">40</text>
<text x="544.25" y="753.75" font-size="11.3" font-weight="bold" text-anchor="middle">1990</text>
<text x="595.51" y="753.75" font-size="11.3" font-weight="bold" text-anchor="middle">2000</text>
<text x="646.77" y="753.75" font-size="11.3" font-weight="bold" text-anchor="middle">2010</text>
<text x="692.9" y="753.75" font-size="11.3" font-weight="bold" text-anchor="middle">2019</text>
<text x="553.45" y="726.35" font-size="13.9" font-weight="bold">DPRK</text>
<text transform="translate(494.85,662.3) rotate(-90)" font-size="11.5" font-weight="bold" text-anchor="middle" class="s">ASDR, 1990–2019</text>
<text transform="translate(508.95,662.3) rotate(-90)" font-size="11.5" font-weight="bold" text-anchor="middle" class="s">(per 100,000 person-years)</text>
<text x="619.1" y="538.05" font-size="14.0" font-weight="bold" text-anchor="middle">APC (95% CI)</text>
<text transform="translate(551.6,556.95) scale(1.0,1)" font-size="8.2" font-weight="bold" fill="#111" class="s">1990–1998</text>
<text transform="translate(596.4,556.95) scale(1.0,1)" font-size="8.2" font-weight="bold" fill="#111" class="s">–0.31%* (–0.45% to –0.18%)</text>
<text transform="translate(551.6,568.25) scale(1.0,1)" font-size="8.2" font-weight="bold" fill="#111" class="s">1998–2008</text>
<text transform="translate(596.4,568.25) scale(1.0,1)" font-size="8.2" font-weight="bold" fill="#111" class="s">–0.79%* (–0.90% to –0.67%)</text>
<text transform="translate(551.6,578.65) scale(1.0,1)" font-size="8.2" font-weight="bold" fill="#111" class="s">2008–2019</text>
<text transform="translate(596.4,578.65) scale(1.0,1)" font-size="8.2" font-weight="bold" fill="#111" class="s">–2.0%* (–2.0% to –1.9%)</text>
<line x1="84.79" y1="817.65" x2="84.79" y2="965.75" stroke="#ebebeb" stroke-width="1.0"/>
<line x1="110.34" y1="817.65" x2="110.34" y2="965.75" stroke="#ebebeb" stroke-width="1.0"/>
<line x1="135.88" y1="817.65" x2="135.88" y2="965.75" stroke="#ebebeb" stroke-width="1.0"/>
<line x1="161.42" y1="817.65" x2="161.42" y2="965.75" stroke="#ebebeb" stroke-width="1.0"/>
<line x1="186.97" y1="817.65" x2="186.97" y2="965.75" stroke="#ebebeb" stroke-width="1.0"/>
<line x1="59.25" y1="944.59" x2="207.4" y2="944.59" stroke="#c8c8c8" stroke-width="0.75" stroke-dasharray="1.6 1.2"/>
<line x1="59.25" y1="923.44" x2="207.4" y2="923.44" stroke="#c8c8c8" stroke-width="0.75" stroke-dasharray="1.6 1.2"/>
<line x1="59.25" y1="902.28" x2="207.4" y2="902.28" stroke="#c8c8c8" stroke-width="0.75" stroke-dasharray="1.6 1.2"/>
<line x1="59.25" y1="881.12" x2="207.4" y2="881.12" stroke="#c8c8c8" stroke-width="0.75" stroke-dasharray="1.6 1.2"/>
<line x1="59.25" y1="859.96" x2="207.4" y2="859.96" stroke="#c8c8c8" stroke-width="0.75" stroke-dasharray="1.6 1.2"/>
<line x1="59.25" y1="838.81" x2="207.4" y2="838.81" stroke="#c8c8c8" stroke-width="0.75" stroke-dasharray="1.6 1.2"/>
<g fill="#760606"><circle cx="59.25" cy="850.7" r="1.4"/><circle cx="64.36" cy="854.1" r="1.4"/><circle cx="69.47" cy="857.2" r="1.4"/><circle cx="74.58" cy="860.9" r="1.4"/><circle cx="79.68" cy="865.8" r="1.4"/><circle cx="84.79" cy="867.5" r="1.4"/><circle cx="89.9" cy="873" r="1.4"/><circle cx="95.01" cy="877.3" r="1.4"/><circle cx="100.12" cy="878.4" r="1.4"/><circle cx="105.23" cy="880.5" r="1.4"/><circle cx="110.34" cy="885.8" r="1.4"/><circle cx="115.44" cy="889.7" r="1.4"/><circle cx="120.55" cy="893.9" r="1.4"/><circle cx="125.66" cy="895.4" r="1.4"/><circle cx="130.77" cy="897.9" r="1.4"/><circle cx="135.88" cy="899.1" r="1.4"/><circle cx="140.99" cy="902.4" r="1.4"/><circle cx="146.1" cy="905.3" r="1.4"/><circle cx="151.21" cy="907.9" r="1.4"/><circle cx="156.31" cy="910.3" r="1.4"/><circle cx="161.42" cy="911.5" r="1.4"/><circle cx="166.53" cy="912.9" r="1.4"/><circle cx="171.64" cy="915.5" r="1.4"/><circle cx="176.75" cy="918" r="1.4"/><circle cx="181.86" cy="920.7" r="1.4"/><circle cx="186.97" cy="923" r="1.4"/><circle cx="192.07" cy="924.8" r="1.4"/><circle cx="197.18" cy="926.7" r="1.4"/><circle cx="202.29" cy="927.1" r="1.4"/><circle cx="207.4" cy="927.9" r="1.4"/></g>
<polyline points="59.25,851.29 64.36,855.24 69.47,859.08 74.58,862.8 79.68,866.41 84.79,869.92 89.9,873.33 95.01,876.64 100.12,879.85 105.23,882.97 110.34,886 115.44,888.94 120.55,891.79 125.66,894.56 130.77,897.25 135.88,899.86 140.99,902.4 146.1,904.86 151.21,907.25 156.31,909.57 161.42,911.82 166.53,914.01 171.64,916.13 176.75,918.19 181.86,920.19 186.97,922.14 192.07,924.02 197.18,925.85 202.29,927.63 207.4,929.36" fill="none" stroke="#3a36c6" stroke-width="1.15" stroke-linejoin="round"/>
<rect x="59.25" y="817.65" width="148.15" height="148.1" fill="none" stroke="#161616" stroke-width="1.55"/>
<text x="48.45" y="970.02" font-size="11.3" font-weight="bold" text-anchor="end">5</text>
<text x="48.45" y="949" font-size="11.3" font-weight="bold" text-anchor="end">10</text>
<text x="48.45" y="927.99" font-size="11.3" font-weight="bold" text-anchor="end">15</text>
<text x="48.45" y="906.98" font-size="11.3" font-weight="bold" text-anchor="end">20</text>
<text x="48.45" y="885.96" font-size="11.3" font-weight="bold" text-anchor="end">25</text>
<text x="48.45" y="864.95" font-size="11.3" font-weight="bold" text-anchor="end">30</text>
<text x="48.45" y="843.93" font-size="11.3" font-weight="bold" text-anchor="end">35</text>
<text x="48.45" y="822.92" font-size="11.3" font-weight="bold" text-anchor="end">40</text>
<text x="59.25" y="985.45" font-size="11.3" font-weight="bold" text-anchor="middle">1990</text>
<text x="110.34" y="985.45" font-size="11.3" font-weight="bold" text-anchor="middle">2000</text>
<text x="161.42" y="985.45" font-size="11.3" font-weight="bold" text-anchor="middle">2010</text>
<text x="207.4" y="985.45" font-size="11.3" font-weight="bold" text-anchor="middle">2019</text>
<text x="68.45" y="957.75" font-size="13.9" font-weight="bold">Japan</text>
<text transform="translate(9.85,890.5) rotate(-90)" font-size="11.5" font-weight="bold" text-anchor="middle" class="s">ASDR, 1990–2019</text>
<text transform="translate(23.95,890.5) rotate(-90)" font-size="11.5" font-weight="bold" text-anchor="middle" class="s">(per 100,000 person-years)</text>
<text transform="translate(67.9,785.95) scale(1.0,1)" font-size="8.2" font-weight="bold" fill="#111" class="s">1990–2019</text>
<text transform="translate(112.7,785.95) scale(1.0,1)" font-size="8.2" font-weight="bold" fill="#111" class="s">–2.9%* (–3.0% to –2.9%)</text>
<text x="134.32" y="1007.85" font-size="15.6" font-weight="bold" text-anchor="middle">Year</text>
<line x1="326.81" y1="817.65" x2="326.81" y2="965.75" stroke="#ebebeb" stroke-width="1.0"/>
<line x1="352.37" y1="817.65" x2="352.37" y2="965.75" stroke="#ebebeb" stroke-width="1.0"/>
<line x1="377.93" y1="817.65" x2="377.93" y2="965.75" stroke="#ebebeb" stroke-width="1.0"/>
<line x1="403.49" y1="817.65" x2="403.49" y2="965.75" stroke="#ebebeb" stroke-width="1.0"/>
<line x1="429.05" y1="817.65" x2="429.05" y2="965.75" stroke="#ebebeb" stroke-width="1.0"/>
<line x1="301.95" y1="950.94" x2="450.2" y2="950.94" stroke="#c8c8c8" stroke-width="0.75" stroke-dasharray="1.6 1.2"/>
<line x1="301.95" y1="936.13" x2="450.2" y2="936.13" stroke="#c8c8c8" stroke-width="0.75" stroke-dasharray="1.6 1.2"/>
<line x1="301.95" y1="921.32" x2="450.2" y2="921.32" stroke="#c8c8c8" stroke-width="0.75" stroke-dasharray="1.6 1.2"/>
<line x1="301.95" y1="906.51" x2="450.2" y2="906.51" stroke="#c8c8c8" stroke-width="0.75" stroke-dasharray="1.6 1.2"/>
<line x1="301.95" y1="891.7" x2="450.2" y2="891.7" stroke="#c8c8c8" stroke-width="0.75" stroke-dasharray="1.6 1.2"/>
<line x1="301.95" y1="876.89" x2="450.2" y2="876.89" stroke="#c8c8c8" stroke-width="0.75" stroke-dasharray="1.6 1.2"/>
<line x1="301.95" y1="862.08" x2="450.2" y2="862.08" stroke="#c8c8c8" stroke-width="0.75" stroke-dasharray="1.6 1.2"/>
<line x1="301.95" y1="847.27" x2="450.2" y2="847.27" stroke="#c8c8c8" stroke-width="0.75" stroke-dasharray="1.6 1.2"/>
<line x1="301.95" y1="832.46" x2="450.2" y2="832.46" stroke="#c8c8c8" stroke-width="0.75" stroke-dasharray="1.6 1.2"/>
<g fill="#760606"><circle cx="301.95" cy="864.9" r="1.4"/><circle cx="307.06" cy="861.5" r="1.4"/><circle cx="312.17" cy="858.6" r="1.4"/><circle cx="317.29" cy="858.6" r="1.4"/><circle cx="322.4" cy="856.6" r="1.4"/><circle cx="327.51" cy="848.5" r="1.4"/><circle cx="332.62" cy="845.1" r="1.4"/><circle cx="337.73" cy="849" r="1.4"/><circle cx="342.85" cy="852.4" r="1.4"/><circle cx="347.96" cy="855.3" r="1.4"/><circle cx="353.07" cy="857.9" r="1.4"/><circle cx="358.18" cy="860.6" r="1.4"/><circle cx="363.29" cy="868.5" r="1.4"/><circle cx="368.41" cy="877.1" r="1.4"/><circle cx="373.52" cy="886.3" r="1.4"/><circle cx="378.63" cy="892" r="1.4"/><circle cx="383.74" cy="897.9" r="1.4"/><circle cx="388.86" cy="905.8" r="1.4"/><circle cx="393.97" cy="910.7" r="1.4"/><circle cx="399.08" cy="911.1" r="1.4"/><circle cx="404.19" cy="913.3" r="1.4"/><circle cx="409.3" cy="916.2" r="1.4"/><circle cx="414.42" cy="920.9" r="1.4"/><circle cx="419.53" cy="926.1" r="1.4"/><circle cx="424.64" cy="932" r="1.4"/><circle cx="429.75" cy="934.8" r="1.4"/><circle cx="434.86" cy="932" r="1.4"/><circle cx="439.98" cy="932.2" r="1.4"/><circle cx="445.09" cy="933.9" r="1.4"/><circle cx="450.2" cy="932.5" r="1.4"/></g>
<polyline points="301.95,865.63 307.06,862.7 312.17,859.72 317.29,856.69 322.4,853.63 327.51,850.52 332.62,847.36 337.73,844.16 342.85,850.58 347.96,856.81 353.07,862.87 358.18,868.76 363.29,874.47 368.41,880.03 373.52,885.42 378.63,890.67 383.74,895.76 388.86,900.71 393.97,905.51 399.08,910.18 404.19,914.72 409.3,919.13 414.42,923.41 419.53,927.57 424.64,931.61 429.75,935.54 434.86,934.8 439.98,934.06 445.09,933.32 450.2,932.58" fill="none" stroke="#3a36c6" stroke-width="1.15" stroke-linejoin="round"/>
<rect x="301.95" y="817.65" width="148.25" height="148.1" fill="none" stroke="#161616" stroke-width="1.55"/>
<text x="291.15" y="970.02" font-size="11.3" font-weight="bold" text-anchor="end">35</text>
<text x="291.15" y="940.6" font-size="11.3" font-weight="bold" text-anchor="end">45</text>
<text x="291.15" y="911.18" font-size="11.3" font-weight="bold" text-anchor="end">55</text>
<text x="291.15" y="881.76" font-size="11.3" font-weight="bold" text-anchor="end">65</text>
<text x="291.15" y="852.34" font-size="11.3" font-weight="bold" text-anchor="end">75</text>
<text x="291.15" y="822.92" font-size="11.3" font-weight="bold" text-anchor="end">85</text>
<text x="301.95" y="985.45" font-size="11.3" font-weight="bold" text-anchor="middle">1990</text>
<text x="353.07" y="985.45" font-size="11.3" font-weight="bold" text-anchor="middle">2000</text>
<text x="404.19" y="985.45" font-size="11.3" font-weight="bold" text-anchor="middle">2010</text>
<text x="450.2" y="985.45" font-size="11.3" font-weight="bold" text-anchor="middle">2019</text>
<text x="311.15" y="957.75" font-size="13.9" font-weight="bold">Mongolia</text>
<text transform="translate(252.55,890.5) rotate(-90)" font-size="11.5" font-weight="bold" text-anchor="middle" class="s">ASDR, 1990–2019</text>
<text transform="translate(266.65,890.5) rotate(-90)" font-size="11.5" font-weight="bold" text-anchor="middle" class="s">(per 100,000 person-years)</text>
<text transform="translate(309.6,785.95) scale(1.0,1)" font-size="8.2" font-weight="bold" fill="#111" class="s">1990–1997</text>
<text transform="translate(354.4,785.95) scale(1.0,1)" font-size="8.2" font-weight="bold" fill="#111" class="s">1.5%* (0.78% to 2.2%)</text>
<text transform="translate(309.6,797.85) scale(1.0,1)" font-size="8.2" font-weight="bold" fill="#111" class="s">1997–2015</text>
<text transform="translate(354.4,797.85) scale(1.0,1)" font-size="8.2" font-weight="bold" fill="#111" class="s">–2.8%* (–3.0% to –2.7%)</text>
<text transform="translate(309.6,810.05) scale(1.0,1)" font-size="8.2" font-weight="bold" fill="#111" class="s">2015–2019</text>
<text transform="translate(354.4,810.05) scale(1.0,1)" font-size="8.2" font-weight="bold" fill="#111" class="s">0.50% (–1.1% to 2.1%)</text>
<text x="377.07" y="1007.85" font-size="15.6" font-weight="bold" text-anchor="middle">Year</text>
<line x1="569.28" y1="817.65" x2="569.28" y2="965.75" stroke="#ebebeb" stroke-width="1.0"/>
<line x1="594.91" y1="817.65" x2="594.91" y2="965.75" stroke="#ebebeb" stroke-width="1.0"/>
<line x1="620.54" y1="817.65" x2="620.54" y2="965.75" stroke="#ebebeb" stroke-width="1.0"/>
<line x1="646.17" y1="817.65" x2="646.17" y2="965.75" stroke="#ebebeb" stroke-width="1.0"/>
<line x1="671.8" y1="817.65" x2="671.8" y2="965.75" stroke="#ebebeb" stroke-width="1.0"/>
<line x1="544.25" y1="954.36" x2="692.9" y2="954.36" stroke="#c8c8c8" stroke-width="0.75" stroke-dasharray="1.6 1.2"/>
<line x1="544.25" y1="942.97" x2="692.9" y2="942.97" stroke="#c8c8c8" stroke-width="0.75" stroke-dasharray="1.6 1.2"/>
<line x1="544.25" y1="931.57" x2="692.9" y2="931.57" stroke="#c8c8c8" stroke-width="0.75" stroke-dasharray="1.6 1.2"/>
<line x1="544.25" y1="920.18" x2="692.9" y2="920.18" stroke="#c8c8c8" stroke-width="0.75" stroke-dasharray="1.6 1.2"/>
<line x1="544.25" y1="908.79" x2="692.9" y2="908.79" stroke="#c8c8c8" stroke-width="0.75" stroke-dasharray="1.6 1.2"/>
<line x1="544.25" y1="897.4" x2="692.9" y2="897.4" stroke="#c8c8c8" stroke-width="0.75" stroke-dasharray="1.6 1.2"/>
<line x1="544.25" y1="886" x2="692.9" y2="886" stroke="#c8c8c8" stroke-width="0.75" stroke-dasharray="1.6 1.2"/>
<line x1="544.25" y1="874.61" x2="692.9" y2="874.61" stroke="#c8c8c8" stroke-width="0.75" stroke-dasharray="1.6 1.2"/>
<line x1="544.25" y1="863.22" x2="692.9" y2="863.22" stroke="#c8c8c8" stroke-width="0.75" stroke-dasharray="1.6 1.2"/>
<line x1="544.25" y1="851.83" x2="692.9" y2="851.83" stroke="#c8c8c8" stroke-width="0.75" stroke-dasharray="1.6 1.2"/>
<line x1="544.25" y1="840.43" x2="692.9" y2="840.43" stroke="#c8c8c8" stroke-width="0.75" stroke-dasharray="1.6 1.2"/>
<line x1="544.25" y1="829.04" x2="692.9" y2="829.04" stroke="#c8c8c8" stroke-width="0.75" stroke-dasharray="1.6 1.2"/>
<g fill="#760606"><circle cx="544.25" cy="857.2" r="1.4"/><circle cx="549.38" cy="857.5" r="1.4"/><circle cx="554.5" cy="859.8" r="1.4"/><circle cx="559.63" cy="860.6" r="1.4"/><circle cx="564.75" cy="860.6" r="1.4"/><circle cx="569.88" cy="863.7" r="1.4"/><circle cx="575.01" cy="868.8" r="1.4"/><circle cx="580.13" cy="874.8" r="1.4"/><circle cx="585.26" cy="880.9" r="1.4"/><circle cx="590.38" cy="886.9" r="1.4"/><circle cx="595.51" cy="894.2" r="1.4"/><circle cx="600.63" cy="900.8" r="1.4"/><circle cx="605.76" cy="905.5" r="1.4"/><circle cx="610.89" cy="909.5" r="1.4"/><circle cx="616.01" cy="913.4" r="1.4"/><circle cx="621.14" cy="916.6" r="1.4"/><circle cx="626.26" cy="918.72" r="1.4"/><circle cx="631.39" cy="922.15" r="1.4"/><circle cx="636.52" cy="925.38" r="1.4"/><circle cx="641.64" cy="928.42" r="1.4"/><circle cx="646.77" cy="931.28" r="1.4"/><circle cx="651.89" cy="933.97" r="1.4"/><circle cx="657.02" cy="936.51" r="1.4"/><circle cx="662.14" cy="938.89" r="1.4"/><circle cx="667.27" cy="941.14" r="1.4"/><circle cx="672.4" cy="943.25" r="1.4"/><circle cx="677.52" cy="945.24" r="1.4"/><circle cx="682.65" cy="945.06" r="1.4"/><circle cx="687.77" cy="944.87" r="1.4"/><circle cx="692.9" cy="944.67" r="1.4"/></g>
<polyline points="544.25,857.07 549.38,858.37 554.5,859.66 559.63,860.94 564.75,862.2 569.88,863.45 575.01,870.12 580.13,876.41 585.26,882.32 590.38,887.89 595.51,893.13 600.63,898.07 605.76,902.71 610.89,907.08 616.01,911.2 621.14,915.07 626.26,918.72 631.39,922.15 636.52,925.38 641.64,928.42 646.77,931.28 651.89,933.97 657.02,936.51 662.14,938.89 667.27,941.14 672.4,943.25 677.52,945.24 682.65,945.06 687.77,944.87 692.9,944.67" fill="none" stroke="#3a36c6" stroke-width="1.15" stroke-linejoin="round"/>
<rect x="544.25" y="817.65" width="148.65" height="148.1" fill="none" stroke="#161616" stroke-width="1.55"/>
<text x="533.45" y="958.7" font-size="11.3" font-weight="bold" text-anchor="end">10</text>
<text x="533.45" y="936.07" font-size="11.3" font-weight="bold" text-anchor="end">20</text>
<text x="533.45" y="913.44" font-size="11.3" font-weight="bold" text-anchor="end">30</text>
<text x="533.45" y="890.81" font-size="11.3" font-weight="bold" text-anchor="end">40</text>
<text x="533.45" y="868.18" font-size="11.3" font-weight="bold" text-anchor="end">50</text>
<text x="533.45" y="845.55" font-size="11.3" font-weight="bold" text-anchor="end">60</text>
<text x="533.45" y="822.92" font-size="11.3" font-weight="bold" text-anchor="end">70</text>
<text x="544.25" y="985.45" font-size="11.3" font-weight="bold" text-anchor="middle">1990</text>
<text x="595.51" y="985.45" font-size="11.3" font-weight="bold" text-anchor="middle">2000</text>
<text x="646.77" y="985.45" font-size="11.3" font-weight="bold" text-anchor="middle">2010</text>
<text x="692.9" y="985.45" font-size="11.3" font-weight="bold" text-anchor="middle">2019</text>
<text x="553.45" y="957.75" font-size="13.9" font-weight="bold">Republic of Korea</text>
<text transform="translate(494.85,890.5) rotate(-90)" font-size="11.5" font-weight="bold" text-anchor="middle" class="s">ASDR, 1990–2019</text>
<text transform="translate(508.95,890.5) rotate(-90)" font-size="11.5" font-weight="bold" text-anchor="middle" class="s">(per 100,000 person-years)</text>
<text transform="translate(551.6,785.95) scale(1.0,1)" font-size="8.2" font-weight="bold" fill="#111" class="s">1990–1995</text>
<text transform="translate(596.4,785.95) scale(1.0,1)" font-size="8.2" font-weight="bold" fill="#111" class="s">–1.2%* (–2.4% to –0.11%)</text>
<text transform="translate(551.6,797.85) scale(1.0,1)" font-size="8.2" font-weight="bold" fill="#111" class="s">1995–2016</text>
<text transform="translate(596.4,797.85) scale(1.0,1)" font-size="8.2" font-weight="bold" fill="#111" class="s">–5.9%* (–6.0% to –5.8%)</text>
<text transform="translate(551.6,810.05) scale(1.0,1)" font-size="8.2" font-weight="bold" fill="#111" class="s">2016–2019</text>
<text transform="translate(596.4,810.05) scale(1.0,1)" font-size="8.2" font-weight="bold" fill="#111" class="s">0.73% (–1.8% to 3.3%)</text>
<text x="619.58" y="1007.85" font-size="15.6" font-weight="bold" text-anchor="middle">Year</text>
</svg></body></html>
